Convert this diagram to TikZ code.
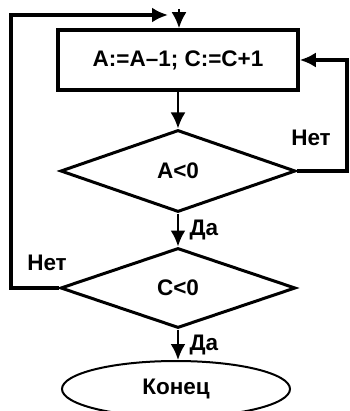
\documentclass[tikz,border=0pt]{standalone}
\usepackage{fontspec}
\setmainfont{Liberation Sans}
\usetikzlibrary{shapes.geometric, arrows.meta}

\tikzset{
  txt/.style={font=\fontsize{22.5}{26}\selectfont\bfseries},
  tip/.style={-{Latex[length=16pt, width=15pt]}},
}

\begin{document}
\begin{tikzpicture}[x=1pt, y=-1pt, line width=3.5pt, txt]
    \useasboundingbox (0,0) rectangle (349,411);

    \node (op) [rectangle, draw, minimum width=240pt, minimum height=60pt] at (178, 60) {A:=A--1; C:=C+1};
    \node (ifa) [diamond, draw, line width=3pt, inner sep=0pt, minimum width=235pt, minimum height=82pt] at (178, 171) {A<0};
    \node (ifc) [diamond, draw, line width=3pt, inner sep=0pt, minimum width=235pt, minimum height=80pt] at (178, 288) {C<0};
    \node (stop) [ellipse, draw, line width=2pt, minimum width=228pt, minimum height=56pt] at (176, 389) {Конец};

    \node (noa) at (311, 138) {Нет};
    \node (noc) at (47, 263) {Нет};

    \coordinate (ent) at (179, 9);
    \coordinate (rt) at (347, 171);
    \coordinate (lf) at (11, 288);
    \coordinate (tp) at (168, 15);

    \path[tip, line width=2.5pt]
    (op) edge (ifa)
    (ifa) edge node[right, xshift=7pt] {Да} (ifc)
    (ifc) edge node[right, xshift=7pt] {Да} (ifc |- stop.north)
    (ent) edge (ent |- op.north);

    \draw[tip] (ifa.east) -- (rt) |- (op.east);
    \draw[tip] (ifc.west) -- (lf) |- (tp);
\end{tikzpicture}
\end{document}
